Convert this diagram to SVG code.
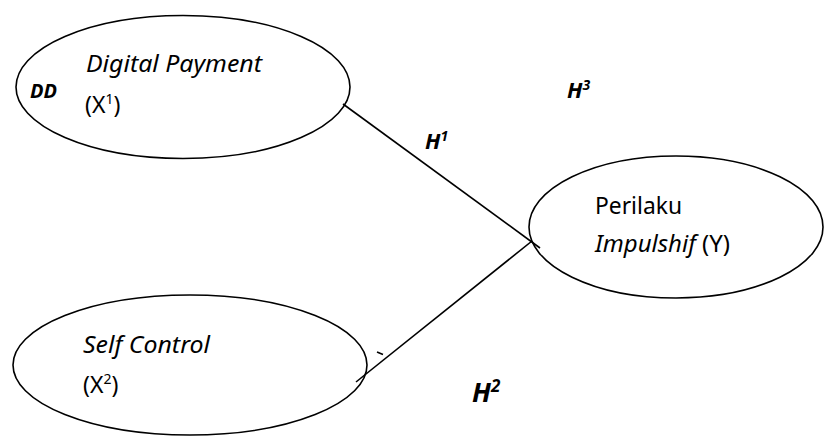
<svg xmlns="http://www.w3.org/2000/svg" width="828" height="437" viewBox="0 0 828 437">
<style>
.node{fill:#fff;stroke:#000;stroke-width:1.6}
.lbl{font-family:"Noto Sans","Open Sans",sans-serif;font-size:23px;fill:#000}
.it{font-style:italic}
.h{font-family:"Noto Sans","Open Sans",sans-serif;font-weight:bold;font-style:italic;fill:#000}
.edge{stroke:#000;stroke-width:1.6;fill:none}
</style>
<rect width="828" height="437" fill="#fff"/>
<g id="node-x1">
<ellipse class="node" cx="183" cy="87" rx="167" ry="71.5"/>
<text class="lbl it" x="86" y="72" textLength="176" lengthAdjust="spacingAndGlyphs">Digital Payment</text>
<text class="lbl" x="85" y="113">(X<tspan font-size="14" dy="-9">1</tspan><tspan dy="9">)</tspan></text>
<text class="h" x="30" y="98" font-size="19" textLength="27" lengthAdjust="spacingAndGlyphs">DD</text>
</g>
<g id="node-x2">
<ellipse class="node" cx="190" cy="365" rx="177" ry="70"/>
<text class="lbl it" x="83" y="353" textLength="127" lengthAdjust="spacingAndGlyphs">Self Control</text>
<text class="lbl" x="83" y="393">(X<tspan font-size="14" dy="-9">2</tspan><tspan dy="9">)</tspan></text>
</g>
<g id="node-y">
<ellipse class="node" cx="676" cy="227" rx="147" ry="71"/>
<text class="lbl" x="595" y="214" textLength="87" lengthAdjust="spacingAndGlyphs">Perilaku</text>
<text class="lbl" x="595" y="252" textLength="135" lengthAdjust="spacingAndGlyphs"><tspan class="it">Impulshif</tspan> (Y)</text>
</g>
<g id="connectors">
<line class="edge" x1="343" y1="104" x2="540" y2="248"/>
<line class="edge" x1="356" y1="382" x2="532" y2="241"/>
<line class="edge" x1="377" y1="352" x2="383" y2="354.5"/>
</g>
<g id="labels">
<text class="h" x="425" y="149" font-size="22">H<tspan font-size="14" dy="-8">1</tspan></text>
<text class="h" x="567" y="98" font-size="22">H<tspan font-size="14" dy="-8">3</tspan></text>
<text class="h" x="472" y="402" font-size="27">H<tspan font-size="17" dy="-10">2</tspan></text>
</g>
</svg>
